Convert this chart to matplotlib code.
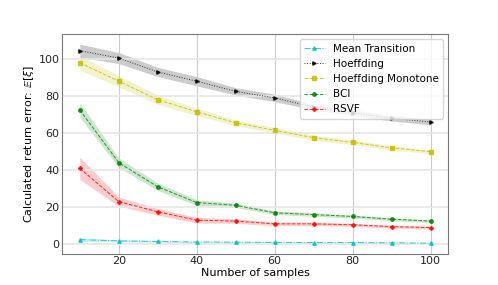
import matplotlib
matplotlib.use('Agg')
import matplotlib.pyplot as plt
import numpy as np

samples = [10, 20, 30, 40, 50, 60, 70, 80, 90, 100]

mean_tr = [2.5, 1.8, 1.5, 1.2, 1.1, 1.0, 0.9, 0.9, 0.8, 0.6]
mean_tr_err = [1.0, 0.6, 0.5, 0.4, 0.4, 0.3, 0.3, 0.3, 0.3, 0.3]

hoeff = [104.5, 100.5, 93.0, 88.0, 82.5, 79.0, 74.0, 71.0, 68.0, 66.0]
hoeff_err = [3.5, 3.0, 2.5, 2.5, 2.0, 2.0, 1.5, 1.5, 1.5, 1.5]

hoeff_mono = [98.0, 88.0, 78.0, 71.5, 65.5, 61.5, 57.5, 55.0, 52.0, 50.0]
hoeff_mono_err = [4.0, 3.0, 2.5, 2.0, 1.5, 1.5, 1.5, 1.2, 1.2, 1.0]

bci = [72.5, 44.0, 31.0, 22.5, 21.0, 17.0, 16.0, 15.0, 13.5, 12.5]
bci_err = [4.0, 2.5, 2.0, 1.5, 1.2, 1.0, 1.0, 0.8, 0.8, 0.8]

rsvf = [41.0, 23.0, 17.5, 13.0, 12.5, 11.0, 11.0, 10.5, 9.5, 9.0]
rsvf_err = [6.0, 2.5, 1.8, 1.5, 1.2, 1.0, 1.0, 0.8, 0.8, 0.8]

series = [
    ('Mean Transition', mean_tr, mean_tr_err, 'c', '-.', '^'),
    ('Hoeffding', hoeff, hoeff_err, 'k', ':', '>'),
    ('Hoeffding Monotone', hoeff_mono, hoeff_mono_err, 'y', '--', 's'),
    ('BCI', bci, bci_err, 'g', '--', 'o'),
    ('RSVF', rsvf, rsvf_err, 'r', '--', 'P'),
]

fig, ax = plt.subplots(figsize=(4.98, 2.85), dpi=100)
fig.subplots_adjust(left=0.125, right=0.9, top=0.88, bottom=0.11)

for name, vals, err, color, ls, mk in series:
    vals = np.array(vals)
    err = np.array(err)
    ax.plot(samples, vals, color=color, linestyle=ls, marker=mk,
            markersize=2.5, linewidth=0.7, alpha=0.8, label=name)
    ax.fill_between(samples, vals - err, vals + err, color=color, alpha=0.2, linewidth=0)

ax.set_xlabel('Number of samples', fontsize=8, labelpad=1)
ax.set_ylabel(r'Calculated return error: $\mathbb{E}[\xi]$', fontsize=8, labelpad=2)
ax.set_xticks([20, 40, 60, 80, 100])
ax.set_yticks([0, 20, 40, 60, 80, 100])
ax.tick_params(labelsize=8, length=0, pad=2, labelcolor='#222222')
ax.grid(True, axis='x', color='#cccccc', linewidth=0.8)
ax.grid(True, axis='y', color='#e6e6e6', linewidth=1.2)
for s in ax.spines.values():
    s.set_color('#777777')
ax.legend(loc='upper right', fontsize=7.5, framealpha=0.8)

fig.savefig('out.png', dpi=100)
